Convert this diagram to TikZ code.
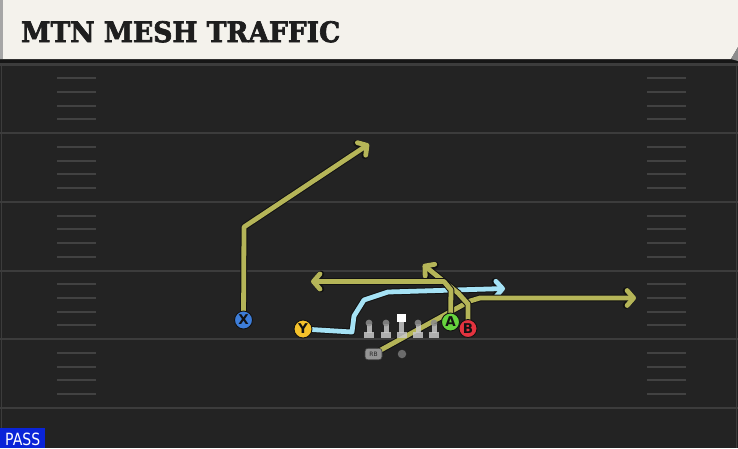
\documentclass[tikz,border=0pt]{standalone}
\usepackage{fontspec}
\setmainfont{DejaVu Sans}
\newfontfamily\titlefont{DejaVu Serif}[BoldFeatures={FakeBold=2.6}]
\usetikzlibrary{arrows.meta}
\definecolor{bg}{RGB}{35,35,35}
\definecolor{band}{RGB}{22,22,22}
\definecolor{fieldline}{RGB}{60,60,60}
\definecolor{hashc}{RGB}{66,66,66}
\definecolor{titlebg}{RGB}{244,242,236}
\definecolor{titletext}{RGB}{30,30,30}
\definecolor{routeY}{RGB}{181,181,88}
\definecolor{routeC}{RGB}{165,226,245}
\definecolor{outl}{RGB}{18,18,18}
\definecolor{pblue}{RGB}{61,125,216}
\definecolor{pyellow}{RGB}{245,194,43}
\definecolor{pgreen}{RGB}{102,212,62}
\definecolor{pred}{RGB}{227,51,63}
\definecolor{lmbody}{RGB}{200,200,200}
\definecolor{lmhead}{RGB}{140,140,140}
\definecolor{passblue}{RGB}{10,36,216}
\tikzset{
  tipR/.style={-{Straight Barb[length=6.5pt,width=15pt,round]}},
  route/.style={draw=routeY, line width=4.8pt, line join=round, tipR,
    preaction={draw=outl, line width=6.8pt, line join=round, tipR}},
  routecyan/.style={route, draw=routeC},
  player/.style={circle, minimum size=18pt, inner sep=0pt, draw=outl, line width=0.9pt,
    text=outl, font=\bfseries\fontsize{13.5}{13.5}\selectfont},
  fieldln/.style={draw=fieldline, line width=2.2pt},
  hashln/.style={draw=hashc, line width=2pt},
}
\begin{document}
\begin{tikzpicture}[x=1pt,y=-1pt]
\useasboundingbox (0,0) rectangle (738,448);
% background
\fill[bg] (0,0) rectangle (738,448);
\fill[band] (0,58) rectangle (738,64);
% field lines
\foreach \L in {64.5,133.2,201.9,270.6,339.3,408} {
  \draw[fieldln] (0,\L) -- (738,\L);
}
\foreach \L in {64.5,133.2,201.9,270.6,339.3} {
  \foreach \k in {1,...,4} {
    \draw[hashln] (57,{\L+13.7*\k}) -- (96,{\L+13.7*\k});
    \draw[hashln] (647,{\L+13.7*\k}) -- (686,{\L+13.7*\k});
  }
}
\draw[draw=fieldline, line width=1.5pt] (1.5,64) -- (1.5,448);
\draw[draw=fieldline, line width=1.5pt] (736.5,64) -- (736.5,448);
% title bar
\fill[titlebg] (0,0) -- (738,0) -- (738,47) -- (731,59) -- (0,59) -- cycle;
\fill[black!35] (0,0) rectangle (3,59);
\fill[black!45] (738,47) -- (738,61) -- (731,59) -- cycle;
\node[anchor=south west, inner sep=0pt, text=titletext] (title) at (21,42.7)
  {\resizebox{319pt}{21pt}{\titlefont\bfseries MTN MESH TRAFFIC}};
% player positions
\coordinate (pX) at (243.5,320);
\coordinate (pY) at (303,329);
\coordinate (pA) at (450.5,322);
\coordinate (pB) at (468,328.5);
\coordinate (pRB) at (373.5,354);
% route bends and ends
\coordinate (x1) at (244,227);
\coordinate (x2) at (369,144);
\coordinate (a1) at (451,290);
\coordinate (a2) at (444,281.5);
\coordinate (a3) at (311,281.5);
\coordinate (b1) at (468,304);
\coordinate (b2) at (458,293);
\coordinate (b3) at (423,264.5);
\coordinate (r1) at (470,301);
\coordinate (r2) at (480,298);
\coordinate (r3) at (636,298);
\coordinate (y1) at (352,332);
\coordinate (y2) at (354,316);
\coordinate (y3) at (364,300);
\coordinate (y4) at (388,292);
\coordinate (y5) at (505,288.5);
% routes
\draw[route] (pX) -- (x1) -- (x2);
\draw[routecyan] (pY) -- (y1) -- (y2) -- (y3) -- (y4) -- (y5);
\draw[route] (pRB) -- (r1) -- (r2) -- (r3);
\draw[route] (pB) -- (b1) -- (b2) -- (b3);
\draw[route] (pA) -- (a1) -- (a2) -- (a3);
% offensive line
\begin{scope}[opacity=0.85]
\foreach \lx in {369,386,418,434} {
  \fill[lmbody] (\lx-5,332) rectangle (\lx+5,338);
  \fill[lmbody] (\lx-2.5,324) rectangle (\lx+2.5,333);
  \fill[lmhead] (\lx,323) circle (3.4);
}
\fill[lmbody] (401.5-5,332) rectangle (401.5+5,338);
\fill[lmbody] (401.5-2.5,321) rectangle (401.5+2.5,333);
\end{scope}
\fill[white] (397.3,313.5) rectangle (405.7,322);
% QB and RB
\node[circle, minimum size=8.5pt, inner sep=0pt, fill=black!58] (QB) at (402,354) {};
\node[rounded corners=3pt, minimum width=17pt, minimum height=11.5pt, inner sep=0pt,
  fill=black!42, draw=black!75, line width=0.6pt, text=black!85,
  font=\fontsize{6}{6}\selectfont] (RB) at (pRB) {RB};
% players
\node[player, fill=pblue] (X) at (pX) {X};
\node[player, fill=pyellow] (Y) at (pY) {Y};
\node[player, fill=pgreen] (A) at (pA) {A};
\node[player, fill=pred] (B) at (pB) {B};
% pass tag
\fill[passblue] (0,428) rectangle (45,448);
\node[anchor=south west, inner sep=0pt, text=white] (pass) at (5,445.5)
  {\resizebox{35pt}{12.5pt}{PASS}};
\end{tikzpicture}
\end{document}
